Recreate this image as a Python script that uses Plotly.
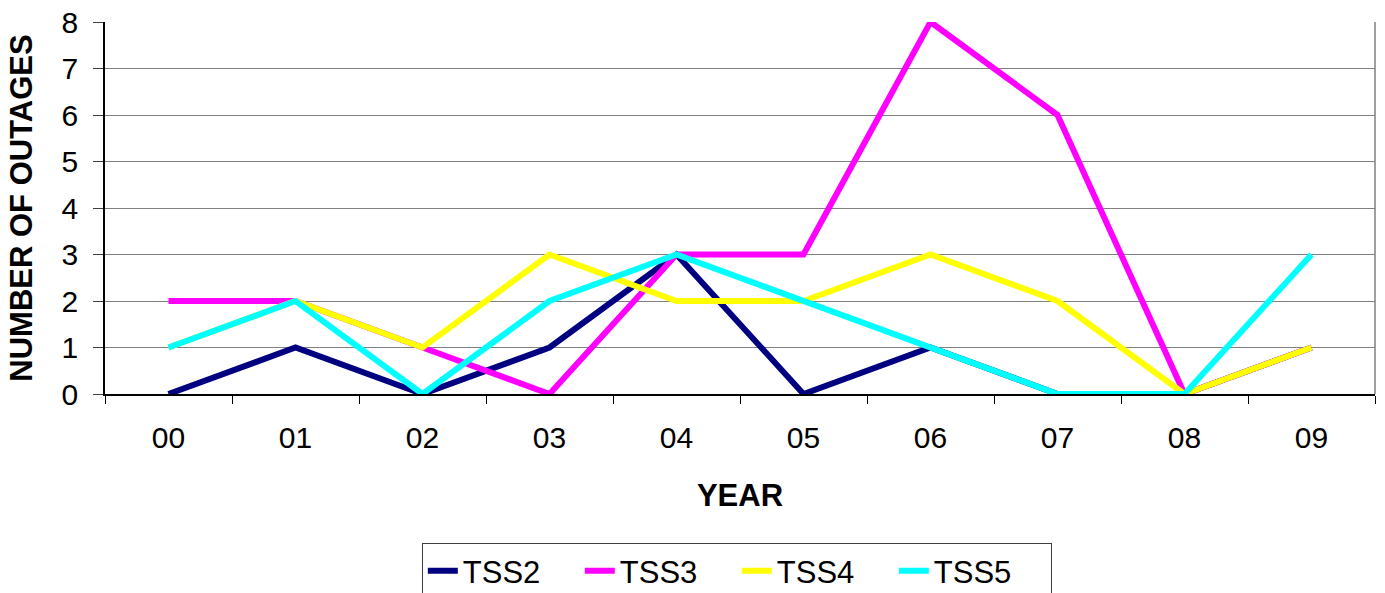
import plotly.graph_objects as go

years = ["00", "01", "02", "03", "04", "05", "06", "07", "08", "09"]
tss2 = [0, 1, 0, 1, 3, 0, 1, 0, 0, 1]
tss3 = [2, 2, 1, 0, 3, 3, 8, 6, 0, 1]
tss4 = [1, 2, 1, 3, 2, 2, 3, 2, 0, 1]
tss5 = [1, 2, 0, 2, 3, 2, 1, 0, 0, 3]

series = [("TSS2", tss2, "#000080"), ("TSS3", tss3, "#FF00FF"),
          ("TSS4", tss4, "#FFFF00"), ("TSS5", tss5, "#00FFFF")]

font = "Liberation Sans, Arial, sans-serif"

fig = go.Figure()
for name, vals, col in series:
    fig.add_trace(go.Scatter(x=years, y=vals, name=name, mode="lines",
                             line=dict(color=col, width=6)))

fig.update_layout(
    width=1385, height=593,
    margin=dict(l=105, r=10, t=22, b=199, autoexpand=False),
    paper_bgcolor="white", plot_bgcolor="white",
    font=dict(family=font, color="black", size=30),
    showlegend=True,
    legend=dict(orientation="h", xref="container", yref="container",
                x=0.532, xanchor="center", y=1 - 543 / 593, yanchor="top",
                bordercolor="#404040", borderwidth=1,
                font=dict(size=31, family=font), entrywidth=112,
                tracegroupgap=0),
    xaxis=dict(type="category", range=[-0.5, 9.5], tickson="boundaries",
               ticks="outside", ticklen=8, tickcolor="black",
               showline=True, linecolor="black", linewidth=1.5,
               showgrid=False, zeroline=False, ticklabelstandoff=16,
               tickfont=dict(size=30),
               title=dict(text="<b>YEAR</b>", font=dict(size=31), standoff=32)),
    yaxis=dict(range=[0, 8], dtick=1, ticks="outside", ticklen=10,
               tickcolor="#404040", showline=True, linecolor="black",
               linewidth=1.5, showgrid=True, gridcolor="#808080", gridwidth=1,
               zeroline=False, tickfont=dict(size=30), ticklabelstandoff=9,
               title=dict(text="<b>NUMBER OF OUTAGES</b>", font=dict(size=31),
                          standoff=20)),
    shapes=[dict(type="line", xref="paper", yref="paper", x0=1, x1=1, y0=0, y1=1,
                 line=dict(color="#808080", width=1.5))],
)

fig.write_html("out.html", config={"displayModeBar": False},
               post_script="document.body.style.margin='0px';")
